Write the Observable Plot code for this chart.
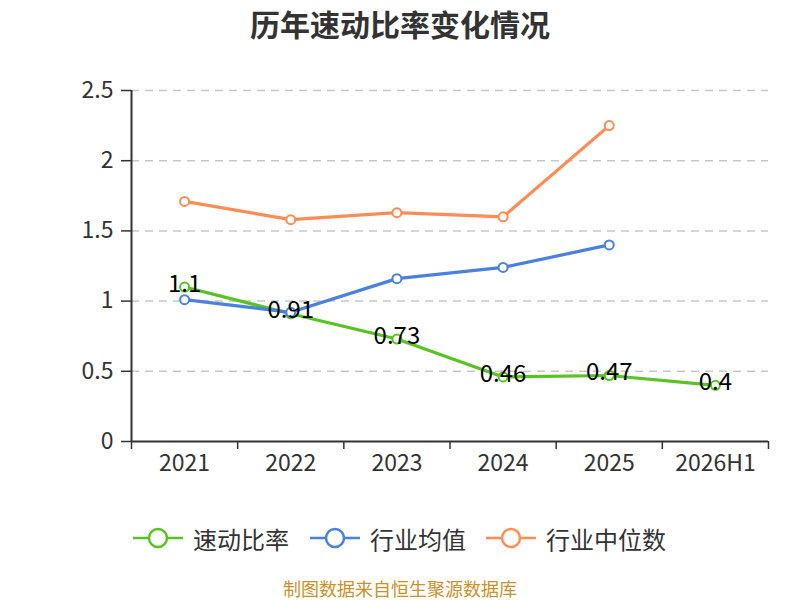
<!DOCTYPE html>
<html>
<head>
<meta charset="utf-8">
<script src="https://cdn.jsdelivr.net/npm/d3@7"></script>
<script src="https://cdn.jsdelivr.net/npm/@observablehq/plot@0.6"></script>
<style>
  html, body { margin: 0; padding: 0; background: #fff; }
  #wrap { position: relative; width: 800px; height: 600px; font-family: "Noto Sans CJK SC", "Noto Sans", sans-serif; color: #333; }
  #title { position: absolute; top: 0; left: 0; width: 800px; text-align: center; font-size: 30px; font-weight: bold; line-height: 46px; color: #333; }
  #chart { position: absolute; top: 50px; left: 0; }
  #legend { position: absolute; top: 520px; left: 0; width: 800px; height: 36px; }
  .item { position: absolute; top: 0; height: 36px; display: flex; align-items: center; font-size: 24px; color: #333; }
  .item svg { margin-right: 10px; }
  #caption { position: absolute; top: 576px; left: 0; width: 800px; text-align: center; font-size: 18px; line-height: 24px; color: #c8922a; }
</style>
</head>
<body>
<div id="wrap">
  <div id="title">历年速动比率变化情况</div>
  <div id="chart"></div>
  <div id="legend"></div>
  <div id="caption">制图数据来自恒生聚源数据库</div>
</div>
<script>
const categories = ["2021", "2022", "2023", "2024", "2025", "2026H1"];
const quickRatio = [1.1, 0.91, 0.73, 0.46, 0.47, 0.4];
const industryAvg = [1.01, 0.92, 1.16, 1.24, 1.40, null];
const industryMedian = [1.71, 1.58, 1.63, 1.60, 2.25, null];
const yTicks = [0, 0.5, 1, 1.5, 2, 2.5];

const seriesNames = ["速动比率", "行业均值", "行业中位数"];
const seriesColors = ["#58c322", "#4a80e0", "#ff8c55"];

function rows(values) {
  return values.map((v, i) => ({x: i + 0.5, v})).filter(d => d.v !== null);
}
const quickRows = rows(quickRatio);
const avgRows = rows(industryAvg);
const medRows = rows(industryMedian);
const centers = categories.map((c, i) => i + 0.5);
const bounds = d3.range(categories.length + 1);

const chart = Plot.plot({
  width: 800,
  height: 440,
  marginTop: 40,
  marginBottom: 49,
  marginLeft: 131,
  marginRight: 32,
  style: {fontFamily: '"Noto Sans CJK SC", "Noto Sans", sans-serif', color: "#333", background: "transparent"},
  x: {domain: [0, categories.length]},
  y: {domain: [0, 2.5]},
  marks: [
    Plot.gridY(yTicks.filter(t => t > 0), {stroke: "#c8c8c8", strokeOpacity: 1, strokeWidth: 1.5, strokeDasharray: "8,6"}),
    Plot.axisY(yTicks, {tickSize: 10, tickPadding: 8, tickFormat: d => String(d), fontSize: 23, label: null, strokeWidth: 1.5}),
    Plot.axisX(bounds, {tickSize: 8, tickFormat: () => "", label: null, strokeWidth: 1.5}),
    Plot.axisX(centers, {tickSize: 0, tickPadding: 13, tickFormat: d => categories[Math.floor(d)], fontSize: 23, label: null}),
    Plot.ruleX([0], {stroke: "#333", strokeWidth: 2}),
    Plot.ruleY([0], {stroke: "#333", strokeWidth: 2}),
    Plot.line(quickRows, {x: "x", y: "v", stroke: seriesColors[0], strokeWidth: 3.2}),
    Plot.dot(quickRows, {x: "x", y: "v", r: 4.5, fill: "#fff", stroke: seriesColors[0], strokeWidth: 2}),
    Plot.line(avgRows, {x: "x", y: "v", stroke: seriesColors[1], strokeWidth: 3.2}),
    Plot.dot(avgRows, {x: "x", y: "v", r: 4.5, fill: "#fff", stroke: seriesColors[1], strokeWidth: 2}),
    Plot.line(medRows, {x: "x", y: "v", stroke: seriesColors[2], strokeWidth: 3.2}),
    Plot.dot(medRows, {x: "x", y: "v", r: 4.5, fill: "#fff", stroke: seriesColors[2], strokeWidth: 2}),
    Plot.text(quickRows, {x: "x", y: "v", text: d => String(d.v), dy: -3, fontSize: 24, fill: "#000"})
  ]
});
document.getElementById("chart").appendChild(chart);

const legend = document.getElementById("legend");
const lefts = [133, 310, 486];
seriesNames.forEach((name, i) => {
  const div = document.createElement("div");
  div.className = "item";
  div.style.left = lefts[i] + "px";
  div.innerHTML = `<svg width="50" height="24"><line x1="0" y1="12" x2="50" y2="12" stroke="${seriesColors[i]}" stroke-width="2.5"/><circle cx="25" cy="12" r="9" fill="#fff" stroke="${seriesColors[i]}" stroke-width="2.5"/></svg><span>${name}</span>`;
  legend.appendChild(div);
});
</script>
</body>
</html>
